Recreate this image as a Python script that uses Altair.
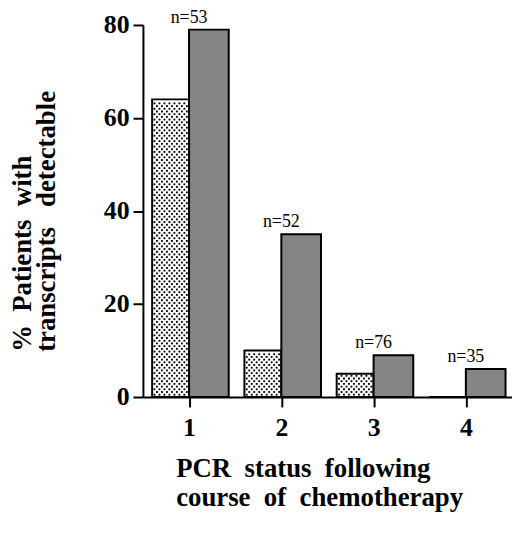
import altair as alt
import numpy as np
import pandas as pd

cursos = [1, 2, 3, 4]
pct_pontilhado = [64, 10, 5, 0]
pct_cinza = [79, 35, 9, 6]
rotulos_n = ["n=53", "n=52", "n=76", "n=35"]
ticks_y = [0, 20, 40, 60, 80]

df = pd.DataFrame({
    "curso": cursos,
    "pontilhado": pct_pontilhado,
    "cinza": pct_cinza,
    "rotulo": rotulos_n,
})

# textura de pontos dentro das barras pontilhadas
pontos = []
for c, v in zip(cursos, pct_pontilhado):
    for i, y in enumerate(np.arange(0.5, v - 0.3, 0.58)):
        desloc = 0.027 * (i % 2)
        for k in range(7):
            pontos.append({"x": c - 0.375 + desloc + k * 0.054, "y": y})
df_pontos = pd.DataFrame(pontos)

fonte = "Liberation Serif"
escala_x = alt.Scale(domain=[0.5, 4.5], nice=False, zero=False)
escala_y = alt.Scale(domain=[0, 80], nice=False)

eixo_x = alt.Axis(
    values=cursos, format="d", grid=False, zindex=1,
    title=["PCR\u00a0 status\u00a0 following", "course\u00a0 of\u00a0 chemotherapy"],
    domainColor="black", domainWidth=2, tickColor="black", tickWidth=2, tickSize=10,
    labelFont=fonte, labelFontWeight="bold", labelFontSize=26, labelColor="black",
    labelPadding=8, labelFlush=False,
    titleFont=fonte, titleFontWeight="bold", titleFontSize=27, titleColor="black",
    titleAlign="left", titleAnchor="start", titleBaseline="top",
    titleX=33, titleY=59, titleLineHeight=29,
)
eixo_y = alt.Axis(
    values=ticks_y, grid=False, zindex=1,
    title=["%\u00a0 Patients\u00a0 with", "transcripts\u00a0\u00a0 detectable"],
    domainColor="black", domainWidth=2, tickColor="black", tickWidth=2, tickSize=10,
    labelFont=fonte, labelFontWeight="bold", labelFontSize=26, labelColor="black",
    labelPadding=4, labelFlush=False,
    titleFont=fonte, titleFontWeight="bold", titleFontSize=27, titleColor="black",
    titleAngle=270, titleAlign="left", titleBaseline="top",
    titleX=-134, titleY=329, titleLineHeight=24,
)

base = alt.Chart(df)

barras_pont = base.transform_calculate(x0="datum.curso - 0.40").mark_rect(
    fill="white", stroke="black", strokeWidth=2
).encode(
    x=alt.X("x0:Q", scale=escala_x, axis=eixo_x),
    x2="curso:Q",
    y=alt.Y("pontilhado:Q", scale=escala_y, axis=eixo_y),
    y2=alt.datum(0),
)

barras_cinza = base.transform_calculate(x1="datum.curso + 0.43").mark_rect(
    fill="#858585", stroke="black", strokeWidth=2
).encode(
    x=alt.X("curso:Q", scale=escala_x, axis=eixo_x),
    x2="x1:Q",
    y=alt.Y("cinza:Q", scale=escala_y, axis=eixo_y),
    y2=alt.datum(0),
)

textura = alt.Chart(df_pontos).mark_square(size=3.5, color="black", opacity=1).encode(
    x=alt.X("x:Q", scale=escala_x, axis=eixo_x),
    y=alt.Y("y:Q", scale=escala_y, axis=eixo_y),
)

textos = base.mark_text(
    font=fonte, fontSize=18, color="black", baseline="alphabetic", dy=-7
).encode(
    x=alt.X("curso:Q", scale=escala_x, axis=eixo_x),
    y=alt.Y("cinza:Q", scale=escala_y, axis=eixo_y),
    text="rotulo:N",
)

chart = alt.layer(barras_pont, barras_cinza, textura, textos).properties(
    width=372,
    height=375,
    autosize=alt.AutoSizeParams(type="none"),
    padding={"left": 136, "top": 15, "right": 0, "bottom": 140},
    background="white",
).configure_view(
    stroke=None
)

chart.save("out.html", embed_options={"renderer": "svg", "actions": False})
